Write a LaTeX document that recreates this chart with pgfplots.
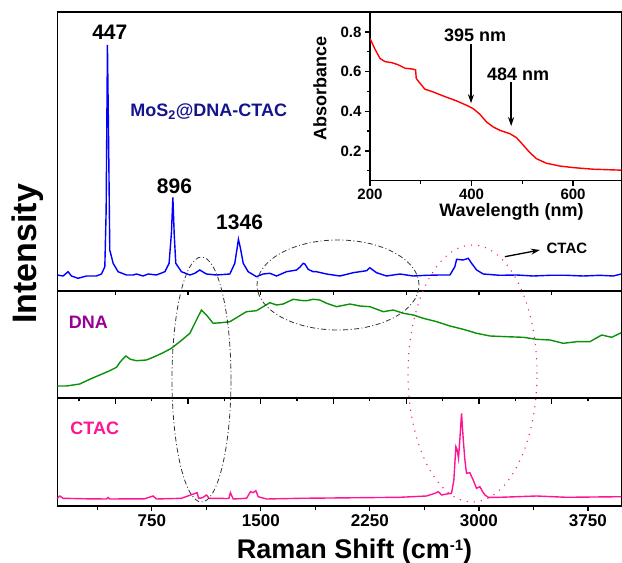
\documentclass[border=0pt]{standalone}
\usepackage{pgfplots}
\pgfplotsset{compat=1.18}
\usepackage{fontspec}
\setmainfont{Liberation Sans}
\usetikzlibrary{arrows.meta}
\definecolor{navyt}{RGB}{20,20,140}
\definecolor{dnapurple}{RGB}{153,0,153}
\definecolor{ctacpink}{RGB}{255,20,147}
\definecolor{dnagreen}{RGB}{10,145,10}
\begin{document}
\begin{tikzpicture}
\pgfplotsset{
  panel/.style={scale only axis, width=564pt, xmin=100, xmax=3980, ymin=0,
    anchor=south west, axis line style={line width=1.5pt},
    ytick=\empty, xtick pos=bottom, tick align=outside,
    tick style={line width=1.3pt, black},
    /pgf/number format/assume math mode=true,
    /pgf/number format/1000 sep={},
    tick label style={font=\bfseries\fontsize{17}{17}\selectfont}},
}
% ---------------- bottom panel: CTAC ----------------
\begin{axis}[panel, at={(0pt,0pt)}, height=108pt, ymax=108,
  xtick={750,1500,2250,3000,3750}, minor xtick={375,1125,1875,2625,3375},
  major tick length=5pt, minor tick length=4pt,
  xlabel={\bfseries\fontsize{27}{27}\selectfont Raman Shift (cm\raisebox{0.55ex}{\fontsize{15}{15}\selectfont -1})},
  xlabel style={at={(axis description cs:0.527,-0.484)}, anchor=base}]
\addplot[ctacpink, line width=1.4pt] coordinates {
(100,7.7) (117,10) (140,7.7) (300,7.2) (440,7) (449,8.5) (460,7) (700,7.2) (759,10) (782,7) (954,7.7) (1062,13.3) (1072,7.7) (1090,8) (1103,8.7) (1126,11) (1145,7.7) (1280,7.5) (1291,13.3) (1310,7) (1402,7.7) (1429,14.3) (1447,13.3) (1466,15.3) (1482,9.3) (1539,7) (1769,7.7) (2457,8.7) (2640,10) (2698,12.7) (2721,14.3) (2744,11) (2778,12) (2812,12.7) (2828,26) (2842,59.3) (2851,56) (2860,47.7) (2869,66) (2881,92.7) (2893,66) (2904,46) (2915,32.7) (2938,33.3) (2961,26) (2984,17.7) (3007,19.3) (3026,14.3) (3042,11) (3065,8.7) (3145,8.7) (3397,10) (3604,8.7) (3980,9.3)
};
\node[anchor=base, text=ctacpink, font=\bfseries\fontsize{18}{18}\selectfont] at (axis cs:358,71) {CTAC};
\end{axis}
% ---------------- middle panel: DNA ----------------
\begin{axis}[panel, at={(0pt,108pt)}, height=107pt, ymax=107,
  xtick={500,1000,...,3500}, minor xtick={250,750,...,3750}, xticklabels={},
  major tick length=6pt, minor tick length=3.5pt]
\addplot[dnagreen, line width=1.4pt] coordinates {
(100,12) (163,12) (254,14) (323,18.7) (392,23) (461,27.3) (507,30.7) (534,36.3) (571,42) (603,38.7) (644,37.3) (713,38) (759,40.7) (828,45.3) (885,49.7) (943,56.3) (1012,64.7) (1057,78) (1092,88) (1126,83) (1172,74.7) (1229,75.3) (1287,76.3) (1344,81.3) (1401,86.3) (1470,87.3) (1516,91.3) (1562,95.3) (1608,93) (1654,94) (1723,98.7) (1792,97.3) (1815,97.3) (1861,98.7) (1906,98) (1953,94.7) (2021,91.3) (2113,94) (2182,92) (2251,91.3) (2343,86.3) (2411,88) (2480,84.7) (2549,83) (2618,79.7) (2710,76.3) (2801,72) (2893,68.7) (2985,64.7) (3077,62) (3191,61.3) (3306,60.7) (3397,58.7) (3489,58) (3581,54.7) (3673,56.3) (3764,56.3) (3845,63) (3914,60.7) (3980,65.3)
};
\node[anchor=base, text=dnapurple, font=\bfseries\fontsize{18}{18}\selectfont] at (axis cs:314,69.7) {DNA};
\end{axis}
% ---------------- top panel: MoS2@DNA-CTAC ----------------
\begin{axis}[panel, at={(0pt,215pt)}, height=279pt, ymax=279,
  xtick={500,1000,...,3500}, xticklabels={}, major tick length=4pt]
\addplot[blue, line width=1.4pt] coordinates {
(100,16) (140,15) (174,19.3) (197,15) (243,12.7) (300,15) (369,15) (404,17) (427,24.3) (436,80) (445,246) (453,150) (461,41) (484,27.7) (518,19.3) (576,16) (622,16) (645,17) (690,15) (725,17) (782,16) (840,19.3) (869,27.7) (885,57.7) (895,93.7) (904,57.7) (915,27.7) (954,19.3) (1012,16) (1046,17.7) (1080,21) (1126,17) (1195,16) (1287,17) (1321,27.7) (1337,42.7) (1346,51.7) (1360,42.7) (1379,27.7) (1413,19.3) (1470,14.3) (1516,17) (1562,17.7) (1608,15) (1677,19.3) (1746,21) (1770,24) (1792,27.7) (1803,27) (1826,21.7) (1860,19.3) (1883,19.3) (1952,17) (2044,15) (2135,18.3) (2228,20.3) (2250,23.3) (2296,18.3) (2365,15) (2457,17) (2548,15) (2640,15.7) (2732,16) (2801,16) (2835,24.3) (2847,31.7) (2893,31) (2927,32.7) (2950,27.7) (2985,21) (3030,17) (3145,15.7) (3260,16) (3374,15) (3489,15.7) (3604,15.7) (3719,15) (3833,15.7) (3925,15) (3980,17)
};
\node[anchor=base, font=\bfseries\fontsize{21}{21}\selectfont] at (axis cs:461,251.7) {447};
\node[anchor=base, font=\bfseries\fontsize{21}{21}\selectfont] at (axis cs:906,97.7) {896};
\node[anchor=base, font=\bfseries\fontsize{21}{21}\selectfont] at (axis cs:1354,61) {1346};
\node[anchor=base, text=navyt, font=\bfseries\fontsize{18}{18}\selectfont] at (axis cs:1142,174.3) {MoS\textsubscript{2}@DNA-CTAC};
\node[anchor=base, font=\bfseries\fontsize{15}{15}\selectfont] at (axis cs:3606,37.7) {CTAC};
\draw[-{Stealth[length=9pt,width=6pt]}, line width=1.3pt] (axis cs:3179,34.3) -- (axis cs:3420,41);
\end{axis}
% ---------------- inset ----------------
\begin{axis}[scale only axis, anchor=south west, at={(312.7pt,325.3pt)},
  width=251.3pt, height=168.7pt, xmin=200, xmax=695, ymin=0.05, ymax=0.9,
  axis background/.style={fill=white},
  axis line style={line width=1.5pt}, tick align=outside,
  xtick pos=bottom, ytick pos=left,
  tick style={line width=1.3pt, black}, major tick length=5pt, minor tick length=3.5pt,
  xtick={200,400,600}, minor xtick={300,500},
  ytick={0.2,0.4,0.6,0.8}, minor ytick={0.1,0.3,0.5,0.7},
  /pgf/number format/assume math mode=true,
  yticklabel style={/pgf/number format/fixed, /pgf/number format/fixed zerofill, /pgf/number format/precision=1},
  tick label style={font=\bfseries\fontsize{15}{15}\selectfont},
  xlabel={\bfseries\fontsize{18}{18}\selectfont Wavelength (nm)},
  ylabel={\bfseries\fontsize{18}{18}\selectfont Absorbance},
  xlabel style={at={(axis description cs:0.563,-0.186)}, anchor=center},
  ylabel style={at={(axis description cs:-0.199,0.544)}, anchor=center}]
\addplot[red, line width=1.4pt] coordinates {
(200,0.766) (209.8,0.713) (219.7,0.666) (229.5,0.650) (242.6,0.645) (255.7,0.634) (268.9,0.617) (285.2,0.612) (289.8,0.608) (291.1,0.565) (298.4,0.541) (308.2,0.511) (324.6,0.497) (344.3,0.477) (370.5,0.452) (390.2,0.430) (403.3,0.413) (416.4,0.385) (429.5,0.346) (442.6,0.321) (455.7,0.304) (475.4,0.287) (488.5,0.267) (501.6,0.230) (514.7,0.192) (527.8,0.161) (547.5,0.138) (573.7,0.124) (600,0.116) (639.3,0.108) (695,0.103)
};
\node[anchor=center, font=\bfseries\fontsize{18}{18}\selectfont] at (axis cs:407,0.783) {395 nm};
\node[anchor=center, font=\bfseries\fontsize{18}{18}\selectfont] at (axis cs:492,0.587) {484 nm};
\draw[-{Stealth[length=9pt,width=6pt]}, line width=1.3pt] (axis cs:399,0.738) -- (axis cs:399,0.44);
\draw[-{Stealth[length=9pt,width=6pt]}, line width=1.3pt] (axis cs:478,0.546) -- (axis cs:478,0.325);
\end{axis}
% ---------------- annotations ----------------
\draw[black!80, line width=0.8pt, dash pattern=on 5pt off 2.5pt on 1pt off 2.5pt] (144.2pt,126.5pt) ellipse [x radius=29.5pt, y radius=122.5pt];
\draw[black!80, line width=0.8pt, dash pattern=on 5pt off 2.5pt on 1pt off 2.5pt] (280.7pt,221pt) ellipse [x radius=81pt, y radius=45pt];
\draw[ctacpink, line width=1.1pt, dash pattern=on 1.1pt off 6pt] (415.2pt,132.5pt) ellipse [x radius=64.5pt, y radius=128.5pt];
\node[rotate=90, anchor=base, font=\bfseries\fontsize{34}{34}\selectfont] at (-20.6pt,252pt) {Intensity};
\pgfresetboundingbox
\path (-57.3pt,-57pt) rectangle (564.7pt,506pt);
\end{tikzpicture}
\end{document}
